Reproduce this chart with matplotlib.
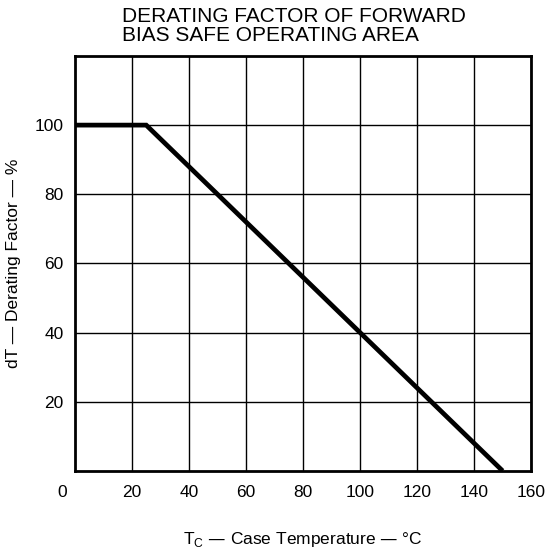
import numpy as np
import matplotlib.pyplot as plt

plt.rcParams['font.family'] = ['Liberation Sans', 'DejaVu Sans']

# derating curve
temp_c = [0, 25, 150]
derating = [100, 100, 0]

x_ticks = [20, 40, 60, 80, 100, 120, 140, 160]
y_ticks = [20, 40, 60, 80, 100]
title = "DERATING FACTOR OF FORWARD\nBIAS SAFE OPERATING AREA"

fig = plt.figure(figsize=(5.47, 5.54), dpi=100)
ax = fig.add_axes([0.137, 0.150, 0.834, 0.749])

ax.plot(temp_c, derating, color='black', lw=3.4, solid_capstyle='butt',
        solid_joinstyle='miter', zorder=3)

ax.set_xlim(0, 160)
ax.set_ylim(0, 120)
ax.set_xticks(x_ticks)
ax.set_yticks(y_ticks)
ax.grid(True, color='black', lw=1.0)
ax.tick_params(length=0, labelsize=12.5)
ax.tick_params(axis='x', pad=10)
ax.tick_params(axis='y', pad=8)
for s in ax.spines.values():
    s.set_linewidth(2)

# corner zero label
ax.text(-4.6, -4.0, "0", ha='center', va='top', fontsize=12.5, clip_on=False)

ax.set_ylabel("dT \u2014 Derating Factor \u2014 %", fontsize=12.5, labelpad=10)
ax.set_xlabel("T$_\\mathregular{C}$ \u2014 Case Temperature \u2014 \u00b0C",
              fontsize=12.5, labelpad=22)

fig.text(0.223, 0.988, title, ha='left', va='top', fontsize=15,
         linespacing=1.0)

fig.savefig("out.png", dpi=100)
